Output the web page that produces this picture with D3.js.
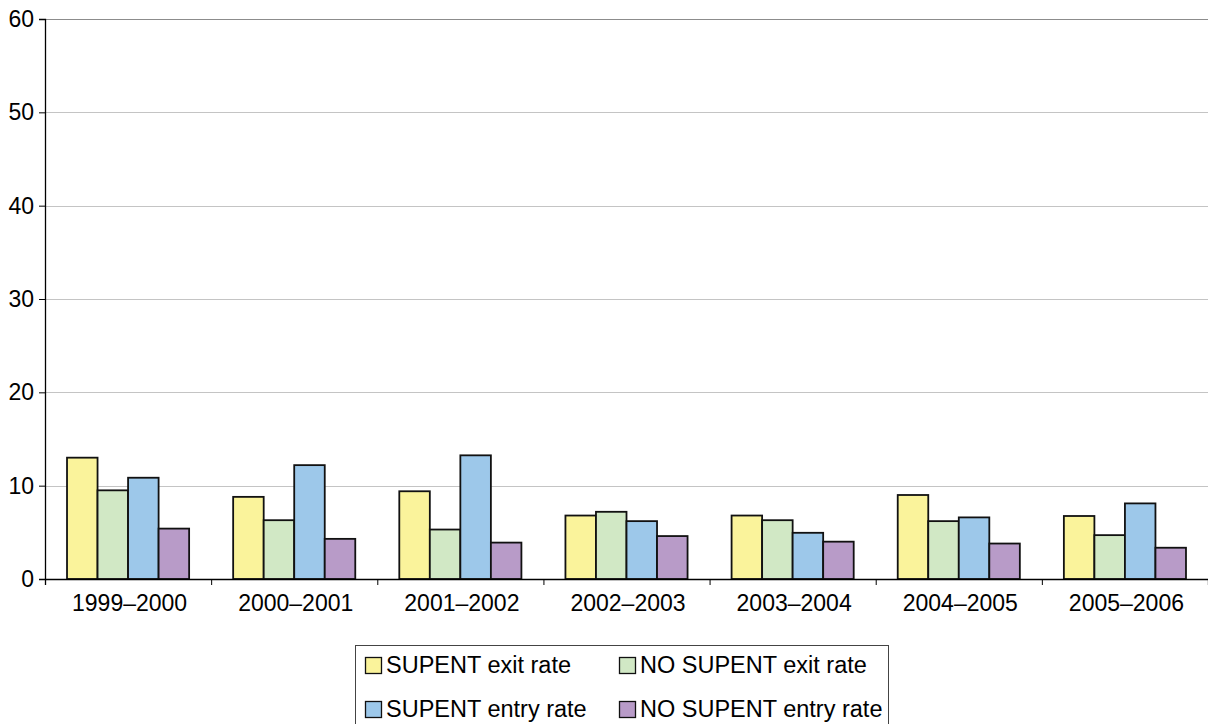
<!DOCTYPE html>
<html>
<head>
<meta charset="utf-8">
<script src="https://cdn.jsdelivr.net/npm/d3@7"></script>
<style>
  html, body { margin: 0; padding: 0; background: #fff; }
  svg { display: block; font-family: "Liberation Sans", Arial, sans-serif; }
</style>
</head>
<body>
<svg id="chart" width="1208" height="724"></svg>
<script>
// School years on the horizontal axis
const categories = ["1999–2000", "2000–2001", "2001–2002", "2002–2003", "2003–2004", "2004–2005", "2005–2006"];

// Series names, in drawing order within each group
const seriesNames = ["SUPENT exit rate", "NO SUPENT exit rate", "SUPENT entry rate", "NO SUPENT entry rate"];

// Rates (%) per year for each series
const supentExit   = [13.0, 8.8, 9.4, 6.8, 6.8, 9.0, 6.75];
const noSupentExit = [9.5, 6.3, 5.3, 7.2, 6.3, 6.2, 4.7];
const supentEntry  = [10.85, 12.2, 13.25, 6.2, 4.95, 6.6, 8.1];
const noSupentEntry= [5.4, 4.3, 3.9, 4.6, 4.0, 3.8, 3.35];

const yTicks = [0, 10, 20, 30, 40, 50, 60];

const seriesValues = [supentExit, noSupentExit, supentEntry, noSupentEntry];
const colors = ["#faf39b", "#d1e8c5", "#9dc8ea", "#b89bc8"];

const svg = d3.select("#chart");
const plotLeft = 45, plotRight = 1208, plotTop = 19, plotBottom = 579;
const fontFamily = "'Liberation Sans', Arial, sans-serif";

const y = d3.scaleLinear().domain([0, 60]).range([plotBottom, plotTop]);
const x0 = d3.scaleBand().domain(categories).range([plotLeft, plotRight])
  .paddingInner(0.265).paddingOuter(0.1325);
const x1 = d3.scaleBand().domain(seriesNames).range([0, x0.bandwidth()]);
const color = d3.scaleOrdinal().domain(seriesNames).range(colors);
// boundaries between categories, for the bottom tick marks
const xb = d3.scaleLinear().domain([0, categories.length]).range([plotLeft, plotRight]);

// horizontal gridlines
svg.append("g")
  .selectAll("line")
  .data(yTicks.filter(d => d > 0))
  .join("line")
  .attr("x1", plotLeft).attr("x2", plotRight)
  .attr("y1", d => Math.round(y(d)) + 0.5).attr("y2", d => Math.round(y(d)) + 0.5)
  .attr("stroke", d => d === 60 ? "#8c8c8c" : "#c4c4c4")
  .attr("stroke-width", 1);

// bars
const rows = categories.map((c, i) => ({
  cat: c,
  vals: seriesNames.map((s, j) => ({ key: s, value: seriesValues[j][i] }))
}));

svg.append("g")
  .selectAll("g")
  .data(rows)
  .join("g")
  .attr("transform", d => `translate(${x0(d.cat)},0)`)
  .selectAll("rect")
  .data(d => d.vals)
  .join("rect")
  .attr("x", d => x1(d.key))
  .attr("y", d => y(d.value))
  .attr("width", x1.bandwidth())
  .attr("height", d => y(0) - y(d.value))
  .attr("fill", d => color(d.key))
  .attr("stroke", "#111")
  .attr("stroke-width", 1.8);

// y axis
const yAxis = svg.append("g")
  .attr("transform", `translate(${plotLeft},0)`)
  .call(d3.axisLeft(y).tickValues(yTicks).tickSize(6).tickPadding(5));
yAxis.select(".domain").attr("stroke", "#000").attr("stroke-width", 1.3);
yAxis.selectAll(".tick line").attr("stroke", "#000");
yAxis.selectAll("text").attr("font-size", 23).attr("fill", "#000")
  .attr("font-family", fontFamily);

// x axis: labels centred under each group
const xAxis = svg.append("g")
  .attr("transform", `translate(1.5,${plotBottom})`)
  .call(d3.axisBottom(x0).tickSize(0).tickPadding(16).tickSizeOuter(0));
xAxis.select(".domain").remove();
xAxis.selectAll("text").attr("font-size", 23).attr("fill", "#000")
  .attr("font-family", fontFamily);

// x axis line and boundary ticks
const xTicks = svg.append("g")
  .attr("transform", `translate(0,${plotBottom})`)
  .call(d3.axisBottom(xb).tickValues(d3.range(0, categories.length + 1)).tickSize(6).tickFormat(""));
xTicks.select(".domain").attr("stroke", "#000").attr("stroke-width", 1.3);
xTicks.selectAll(".tick line").attr("stroke", "#000");

// legend
const lg = svg.append("g");
lg.append("rect")
  .attr("x", 355.5).attr("y", 645.5)
  .attr("width", 533).attr("height", 100)
  .attr("fill", "#fff").attr("stroke", "#444").attr("stroke-width", 1);

const legendPos = [
  { x: 365, y: 657 }, { x: 619, y: 657 },
  { x: 365, y: 701 }, { x: 619, y: 701 }
];
const items = lg.selectAll("g.item")
  .data(seriesNames)
  .join("g")
  .attr("class", "item")
  .attr("transform", (d, i) => `translate(${legendPos[i].x},${legendPos[i].y})`);
items.append("rect")
  .attr("x", 0.5).attr("y", 0.5)
  .attr("width", 16).attr("height", 16)
  .attr("fill", d => color(d))
  .attr("stroke", "#111").attr("stroke-width", 1.3);
items.append("text")
  .attr("x", 21).attr("y", 16)
  .attr("font-size", 23.5)
  .attr("font-family", fontFamily)
  .attr("fill", "#000")
  .text(d => d);
</script>
</body>
</html>
